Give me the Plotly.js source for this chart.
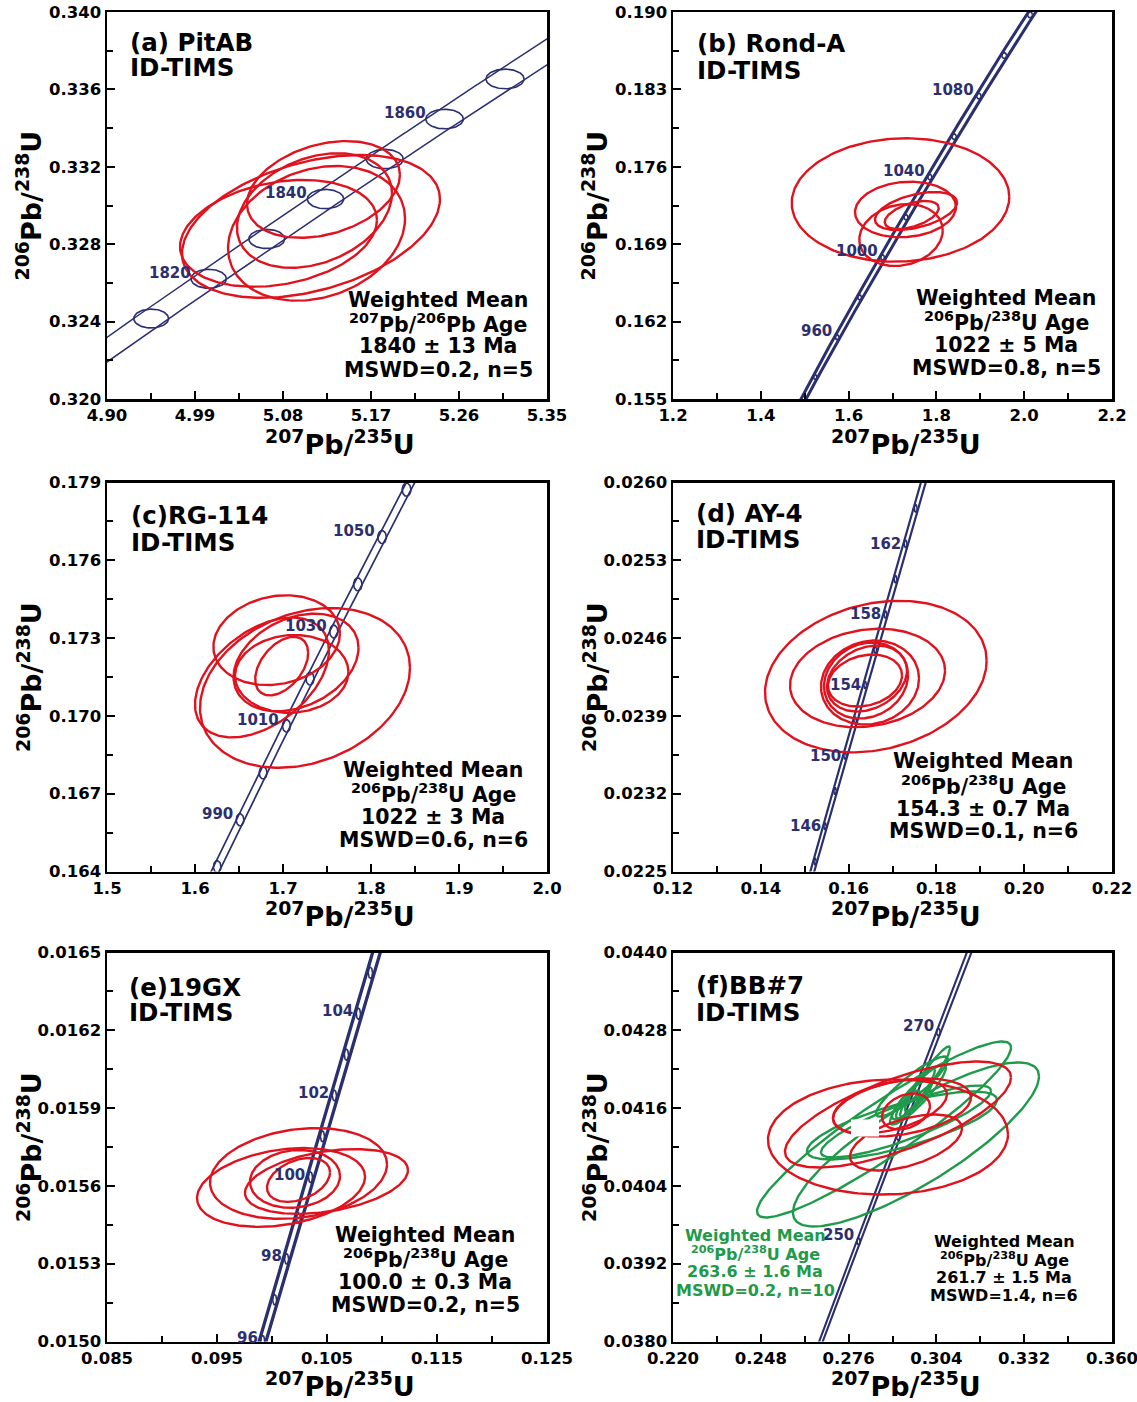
<!DOCTYPE html>
<html><head><meta charset="utf-8">
<script src="https://cdn.plot.ly/plotly-3.0.1.min.js"></script>
<style>html,body{margin:0;padding:0;background:#fff}</style>
</head><body>
<div id="chart" style="width:1137px;height:1402px"></div>
<script>
// ---------- constants (decay constants, 95% relative errors) ----------
const L235 = 9.8485e-10, L238 = 1.55125e-10;
const REL235 = 0.001676, REL238 = 0.00131;

// ---------- (a) PitAB ----------
const a_cx  = [5.0754, 5.1086, 5.1143, 5.1214, 5.1122];
const a_cy  = [0.32856, 0.32892, 0.32856, 0.33083, 0.32974];
const a_sx  = [0.1007, 0.1319, 0.0905, 0.0782, 0.0793];
const a_sy  = [0.00276, 0.00369, 0.00348, 0.00250, 0.00296];
const a_rho = [0.25, 0.38, 0.22, 0.30, 0.30];
const a_markAges  = [1810, 1820, 1830, 1840, 1850, 1860, 1870];
const a_labelAges = [1820, 1840, 1860];

// ---------- (b) Rond-A ----------
const b_cx  = [1.7182, 1.7296, 1.7194, 1.7535, 1.7438];
const b_cy  = [0.17300, 0.17214, 0.16983, 0.17200, 0.17164];
const b_sx  = [0.2478, 0.1150, 0.0950, 0.0934, 0.0615];
const b_sy  = [0.00558, 0.00251, 0.00280, 0.00172, 0.00127];
const b_rho = [0.05, 0.10, 0.15, 0.45, 0.50];
const b_markAges  = [940, 960, 980, 1000, 1020, 1040, 1060, 1080, 1100, 1120];
const b_labelAges = [960, 1000, 1040, 1080];

// ---------- (c) RG-114 ----------
const c_cx  = [1.7250, 1.6928, 1.6761, 1.7148, 1.7099, 1.6985];
const c_cy  = [0.17108, 0.17292, 0.17148, 0.17206, 0.17162, 0.17192];
const c_sx  = [0.1193, 0.0719, 0.0761, 0.0710, 0.0644, 0.0301];
const c_sy  = [0.00308, 0.00173, 0.00231, 0.00188, 0.00150, 0.00113];
const c_rho = [0.25, 0.15, 0.45, 0.30, 0.05, 0.45];
const c_markAges  = [980, 990, 1000, 1010, 1020, 1030, 1040, 1050, 1060];
const c_labelAges = [990, 1010, 1030, 1050];

// ---------- (d) AY-4 ----------
const d_cx  = [0.16620, 0.16431, 0.16488, 0.16397, 0.16419, 0.16374];
const d_cy  = [0.024254, 0.024241, 0.024200, 0.024218, 0.024236, 0.024218];
const d_sx  = [0.02524, 0.01765, 0.01116, 0.00957, 0.00911, 0.00843];
const d_sy  = [0.000682, 0.000443, 0.000378, 0.000342, 0.000297, 0.000234];
const d_rho = [0.21, 0.15, 0.10, 0.15, 0.25, 0.20];
const d_markAges  = [144, 146, 148, 150, 152, 154, 156, 158, 160, 162, 164];
const d_labelAges = [146, 150, 154, 158, 162];

// ---------- (e) 19GX ----------
const e_cx  = [0.10082, 0.10241, 0.10495, 0.10209, 0.10241];
const e_cy  = [0.015594, 0.015648, 0.015617, 0.015627, 0.015623];
const e_sx  = [0.007636, 0.008045, 0.007409, 0.004091, 0.002864];
const e_sy  = [0.0001519, 0.000175, 0.000125, 0.0001115, 0.0000846];
const e_rho = [0.27, 0.20, 0.35, 0.10, 0.35];
const e_markAges  = [96, 97, 98, 99, 100, 101, 102, 103, 104, 105];
const e_labelAges = [96, 98, 100, 102, 104];

// ---------- (f) BB#7 ----------
const fr_cx  = [0.28856, 0.29175, 0.29303, 0.29430, 0.29430, 0.28920];
const fr_cy  = [0.041154, 0.041501, 0.041609, 0.041069, 0.041548, 0.041625];
const fr_sx  = [0.03827, 0.03604, 0.0220, 0.01786, 0.00765, 0.01818];
const fr_sy  = [0.000887, 0.000817, 0.000447, 0.000432, 0.000278, 0.000416];
const fr_rho = [0.05, 0.70, 0.35, 0.50, 0.30, 0.45];
const fg_cx  = [0.28729, 0.29749, 0.29303, 0.29430, 0.29622, 0.29813, 0.29622, 0.29877, 0.29494, 0.30036];
const fg_cy  = [0.041270, 0.041039, 0.041332, 0.041393, 0.041933, 0.041810, 0.041733, 0.041887, 0.041655, 0.042010];
const fg_sx  = [0.0405, 0.03923, 0.0303, 0.0271, 0.01148, 0.00893, 0.00638, 0.00478, 0.00383, 0.00797];
const fg_sy  = [0.001357, 0.001265, 0.000524, 0.000555, 0.000463, 0.000463, 0.000308, 0.000339, 0.000216, 0.00054];
const fg_rho = [0.93, 0.83, 0.75, 0.85, 0.90, 0.90, 0.85, 0.90, 0.80, 0.95];
const f_markAges  = [240, 250, 260, 270, 280];
const f_labelAges = [250, 270];

// ---------- texts ----------
const titles_a = ['(a) PitAB', 'ID-TIMS'];
const titles_b = ['(b) Rond-A', 'ID-TIMS'];
const titles_c = ['(c)RG-114', 'ID-TIMS'];
const titles_d = ['(d) AY-4', 'ID-TIMS'];
const titles_e = ['(e)19GX', 'ID-TIMS'];
const titles_f = ['(f)BB#7', 'ID-TIMS'];
const wm_a = ['Weighted Mean', '<sup>207</sup>Pb/<sup>206</sup>Pb Age', '1840 ± 13 Ma', 'MSWD=0.2, n=5'];
const wm_b = ['Weighted Mean', '<sup>206</sup>Pb/<sup>238</sup>U Age', '1022 ± 5 Ma', 'MSWD=0.8, n=5'];
const wm_c = ['Weighted Mean', '<sup>206</sup>Pb/<sup>238</sup>U Age', '1022 ± 3 Ma', 'MSWD=0.6, n=6'];
const wm_d = ['Weighted Mean', '<sup>206</sup>Pb/<sup>238</sup>U Age', '154.3 ± 0.7 Ma', 'MSWD=0.1, n=6'];
const wm_e = ['Weighted Mean', '<sup>206</sup>Pb/<sup>238</sup>U Age', '100.0 ± 0.3 Ma', 'MSWD=0.2, n=5'];
const wm_fg = ['Weighted Mean', '<sup>206</sup>Pb/<sup>238</sup>U Age', '263.6 ± 1.6 Ma', 'MSWD=0.2, n=10'];
const wm_fr = ['Weighted Mean', '<sup>206</sup>Pb/<sup>238</sup>U Age', '261.7 ± 1.5 Ma', 'MSWD=1.4, n=6'];
const xTitle = '<sup>207</sup>Pb/<sup>235</sup>U';
const yTitle = '<sup>206</sup>Pb/<sup>238</sup>U';

// ---------- styling ----------
const W = 1137, H = 1402;
const FONT = 'DejaVu Sans';
const NAVY = '#2c2f6e', RED = '#e0121e', GREEN = '#1f9a4a';
const px = v => v / W, py = v => 1 - v / H;

const panels = [
  {xd:[107,547], yd:[12,399],    xr:[4.90,5.35], xt:0.09,  xf:'.2f', yr:[0.320,0.340], yt:0.004,  yf:'.3f',
   ages:[1775,1905], marks:a_markAges, labels:a_labelAges, lxs:2, lys:6, bw:1.5, bf:0.8,
   ell:[[a_cx,a_cy,a_sx,a_sy,a_rho,RED]], titles:titles_a, tpos:[129,42,67.5],
   blocks:[{lines:wm_a, x:438, y:[300,323.5,346.5,370], size:20.5, color:'#000'}]},
  {xd:[673,1112], yd:[12,399],   xr:[1.2,2.2], xt:0.2, xf:'.1f', yr:[0.155,0.190], yt:0.007, yf:'.3f',
   ages:[880,1180], marks:b_markAges, labels:b_labelAges, lxs:-1, lys:6, bw:3.0, bf:1.25,
   ell:[[b_cx,b_cy,b_sx,b_sy,b_rho,RED]], titles:titles_b, tpos:[696,43.5,71],
   blocks:[{lines:wm_b, x:1006, y:[298,321.5,345,368], size:20.5, color:'#000'}]},
  {xd:[107,547], yd:[482.5,871.5], xr:[1.5,2.0], xt:0.1, xf:'.1f', yr:[0.164,0.179], yt:0.003, yf:'.3f',
   ages:[960,1080], marks:c_markAges, labels:c_labelAges, lxs:-1, lys:6, bw:1.7, bf:0.8,
   ell:[[c_cx,c_cy,c_sx,c_sy,c_rho,RED]], titles:titles_c, tpos:[130,515,542],
   blocks:[{lines:wm_c, x:433, y:[770,793,816.5,840], size:20.5, color:'#000'}]},
  {xd:[673,1112], yd:[482.5,871.5], xr:[0.12,0.22], xt:0.02, xf:'.2f', yr:[0.0225,0.0260], yt:0.0007, yf:'.4f',
   ages:[140,170], marks:d_markAges, labels:d_labelAges, lxs:-1, lys:0, bw:2.2, bf:1.3,
   ell:[[d_cx,d_cy,d_sx,d_sy,d_rho,RED]], titles:titles_d, tpos:[695,513,539],
   blocks:[{lines:wm_d, x:983, y:[761,785,808.5,831.5], size:20.5, color:'#000'}]},
  {xd:[107,547], yd:[952.5,1341.5], xr:[0.085,0.125], xt:0.01, xf:'.3f', yr:[0.0150,0.0165], yt:0.0003, yf:'.4f',
   ages:[94,108], marks:e_markAges, labels:e_labelAges, lxs:-1, lys:2.5, bw:3.3, bf:1.4,
   ell:[[e_cx,e_cy,e_sx,e_sy,e_rho,RED]], titles:titles_e, tpos:[128,987,1012],
   blocks:[{lines:wm_e, x:425, y:[1235,1258,1281.5,1305], size:20.5, color:'#000'}]},
  {xd:[673,1112], yd:[952.5,1341.5], xr:[0.220,0.360], xt:0.028, xf:'.3f', yr:[0.0380,0.0440], yt:0.0012, yf:'.4f',
   ages:[235,285], marks:f_markAges, labels:f_labelAges, lxs:-1, lys:6, bw:2.1, bf:0.9,
   ell:[[fg_cx,fg_cy,fg_sx,fg_sy,fg_rho,GREEN],[fr_cx,fr_cy,fr_sx,fr_sy,fr_rho,RED]], titles:titles_f, tpos:[695,985,1012],
   blocks:[{lines:wm_fg, x:755, y:[1235,1253.5,1271.5,1290], size:16, color:GREEN},
           {lines:wm_fr, x:1004, y:[1241,1259.5,1277.5,1295], size:16, color:'#000'}]}
];

// ---------- helpers ----------
function conc(ageMa) {
  const T = ageMa * 1e6;
  const e5 = Math.exp(L235 * T), e8 = Math.exp(L238 * T);
  return {x: e5 - 1, y: e8 - 1, dx: L235 * e5, dy: L238 * e8,
          sx: T * L235 * e5 * REL235, sy: T * L238 * e8 * REL238};
}
function ellipsePts(cx, cy, sx, sy, rho, n) {
  const xs = [], ys = [], k = Math.sqrt(1 - rho * rho);
  for (let i = 0; i <= n; i++) {
    const t = 2 * Math.PI * i / n;
    xs.push(cx + sx * Math.cos(t));
    ys.push(cy + sy * (rho * Math.cos(t) + k * Math.sin(t)));
  }
  return [xs, ys];
}

const traces = [];
const annotations = [];
const shapes = [];
const layout = {width: W, height: H, margin: {l:0, r:0, t:0, b:0},
  paper_bgcolor: '#fff', plot_bgcolor: '#fff', showlegend: false};

panels.forEach((p, i) => {
  const sfx = i === 0 ? '' : String(i + 1);
  const xa = 'x' + sfx, ya = 'y' + sfx;
  const tickfont = {family: FONT, size: 16.5, color: '#000', weight: 'bold'};
  const ax = (dom, r, dt, fmt, anchor) => {
    const span = r[1] - r[0];
    return {domain: dom, range: [r[0] - span * 1e-6, r[1] + span * 1e-6], anchor: anchor,
      tick0: r[0], dtick: dt, tickformat: fmt, ticks: 'inside', ticklen: 8, tickwidth: 2, tickcolor: '#000',
      showline: true, linewidth: 2.5, linecolor: '#000', mirror: true, showgrid: false, zeroline: false,
      minor: {ticks: 'inside', ticklen: 6, tickwidth: 2, tickcolor: '#000', tick0: r[0], dtick: dt / 2, showgrid: false},
      tickfont: tickfont, ticklabeloverflow: 'allow', fixedrange: true, automargin: false};
  };
  layout['xaxis' + sfx] = ax([px(p.xd[0]), px(p.xd[1])], p.xr, p.xt, p.xf, ya);
  layout['yaxis' + sfx] = ax([py(p.yd[1]), py(p.yd[0])], p.yr, p.yt, p.yf, xa);

  // concordia band (decay-constant error envelope)
  const up = {x: [], y: []}, lo = {x: [], y: []};
  const n = 800;
  for (let k = 0; k <= n; k++) {
    const c = conc(p.ages[0] + (p.ages[1] - p.ages[0]) * k / n);
    const sx = p.bf * c.sx, sy = p.bf * c.sy;
    const nx = -c.dy, ny = c.dx;
    const norm = Math.sqrt(sx * sx * nx * nx + sy * sy * ny * ny);
    const ox = sx * sx * nx / norm, oy = sy * sy * ny / norm;
    up.x.push(c.x + ox); up.y.push(c.y + oy);
    lo.x.push(c.x - ox); lo.y.push(c.y - oy);
  }
  [up, lo].forEach(e => traces.push({type: 'scatter', mode: 'lines', x: e.x, y: e.y, xaxis: xa, yaxis: ya,
    line: {color: NAVY, width: p.bw}, hoverinfo: 'skip', showlegend: false}));

  // age marker ellipses
  let MX = [], MY = [];
  p.marks.forEach(a => {
    const c = conc(a);
    const [xs, ys] = ellipsePts(c.x, c.y, c.sx, c.sy, 0, 90);
    MX = MX.concat(xs, [null]); MY = MY.concat(ys, [null]);
  });
  traces.push({type: 'scatter', mode: 'lines', x: MX, y: MY, xaxis: xa, yaxis: ya,
    line: {color: NAVY, width: 1.6}, hoverinfo: 'skip', showlegend: false});

  // data ellipses
  p.ell.forEach(([cx, cy, sx, sy, rho, col]) => {
    let X = [], Y = [];
    for (let k = 0; k < cx.length; k++) {
      const [xs, ys] = ellipsePts(cx[k], cy[k], sx[k], sy[k], rho[k], 200);
      X = X.concat(xs, [null]); Y = Y.concat(ys, [null]);
    }
    traces.push({type: 'scatter', mode: 'lines', x: X, y: Y, xaxis: xa, yaxis: ya,
      line: {color: col, width: 2.4}, hoverinfo: 'skip', showlegend: false});
  });

  // age labels
  p.labels.forEach(a => {
    const c = conc(a);
    annotations.push({xref: xa, yref: ya, x: c.x - c.sx, y: c.y, text: String(a), showarrow: false,
      xanchor: 'right', yanchor: 'middle', xshift: p.lxs, yshift: p.lys,
      font: {family: FONT, size: 15, color: NAVY, weight: 'bold'}});
  });

  // panel title
  p.titles.forEach((t, k) => annotations.push({xref: 'paper', yref: 'paper', x: px(p.tpos[0]), y: py(p.tpos[1 + k]),
    text: t, showarrow: false, xanchor: 'left', yanchor: 'middle', borderpad: 0,
    font: {family: FONT, size: 24.5, color: '#000', weight: 'bold'}}));

  // weighted mean blocks
  p.blocks.forEach(b => b.lines.forEach((t, k) => annotations.push({xref: 'paper', yref: 'paper',
    x: px(b.x), y: py(b.y[k]), text: t, showarrow: false, xanchor: 'center', yanchor: 'middle', borderpad: 0,
    font: {family: FONT, size: b.size, color: b.color, weight: 'bold'}})));

  // axis titles
  const xc = (p.xd[0] + p.xd[1]) / 2 + 13, yc = (p.yd[0] + p.yd[1]) / 2;
  annotations.push({xref: 'paper', yref: 'paper', x: px(xc), y: py(p.yd[1] + 43), text: xTitle, showarrow: false,
    xanchor: 'center', yanchor: 'middle', borderpad: 0, font: {family: FONT, size: 27, color: '#000', weight: 'bold'}});
  annotations.push({xref: 'paper', yref: 'paper', x: px(p.xd[0] < 300 ? 29 : 595), y: py(yc), text: yTitle, showarrow: false,
    textangle: -90, xanchor: 'center', yanchor: 'middle', font: {family: FONT, size: 27, color: '#000', weight: 'bold'}});
});

// white patch covering part of panel (f)
shapes.push({type: 'rect', xref: 'x6', yref: 'y6', x0: 0.27676, x1: 0.28569, y0: 0.041162, y1: 0.041424,
  fillcolor: '#fff', line: {width: 0}, layer: 'above'});

layout.annotations = annotations;
layout.shapes = shapes;
Plotly.newPlot('chart', traces, layout, {staticPlot: true});
</script>
</body></html>
